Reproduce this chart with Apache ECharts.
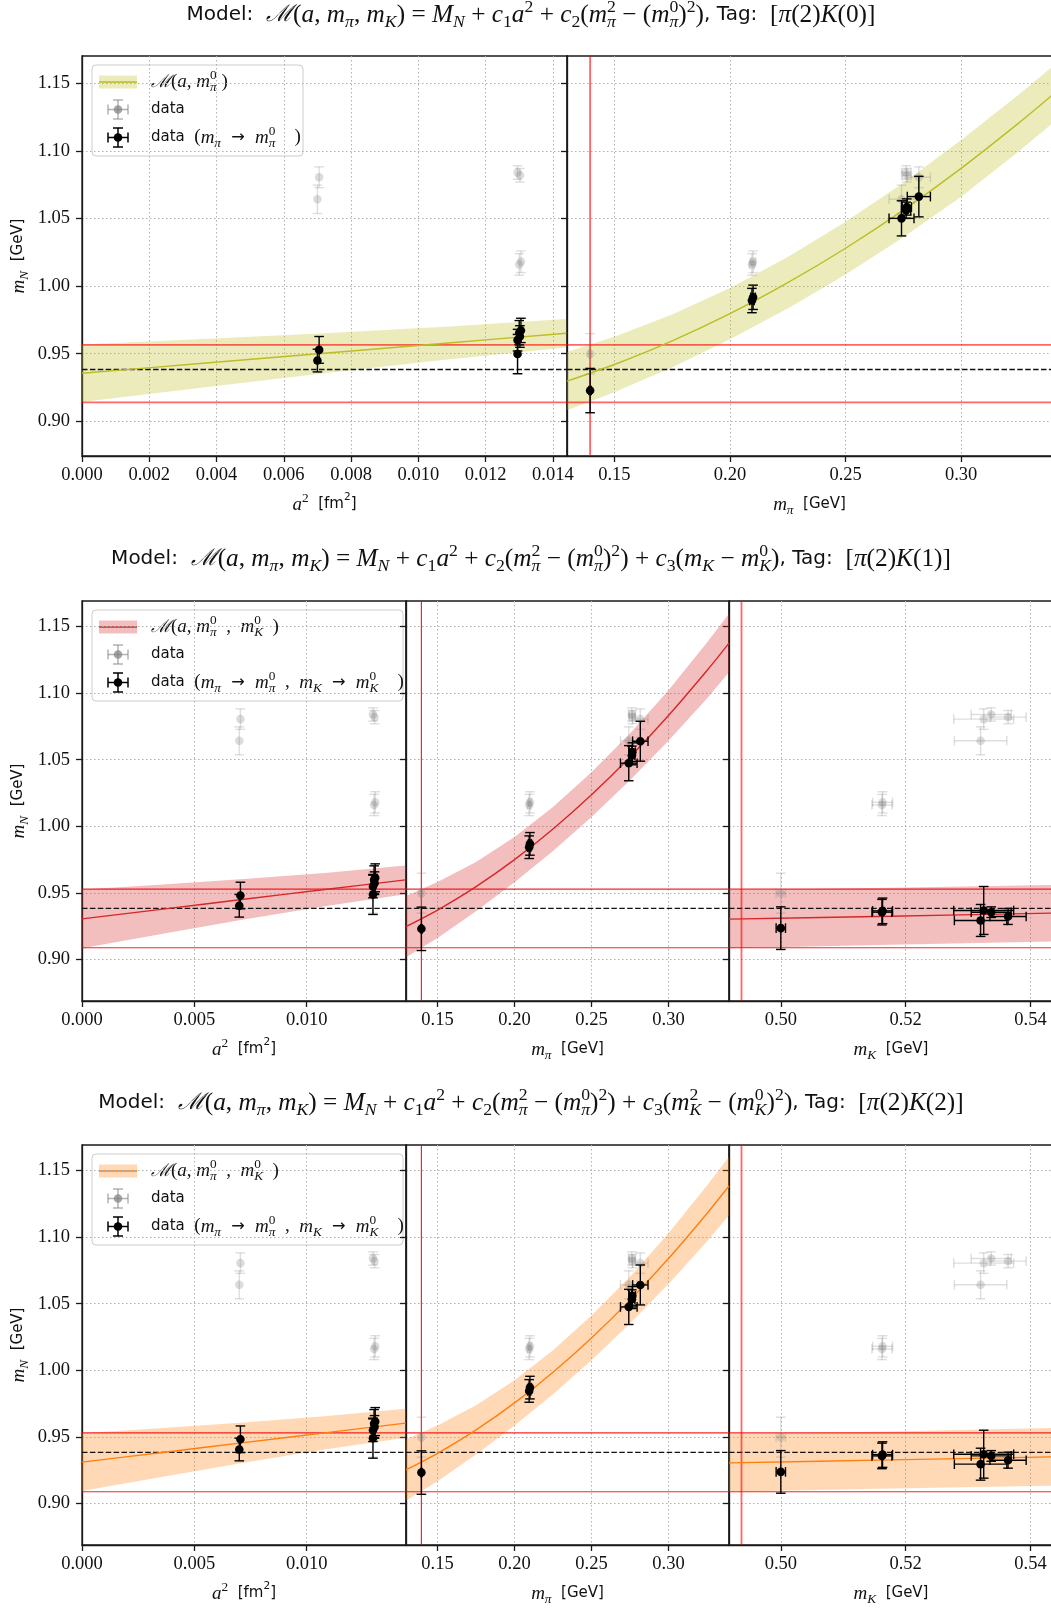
<!DOCTYPE html>
<html>
<head>
<meta charset="utf-8">
<script src="https://cdn.jsdelivr.net/npm/echarts@6/dist/echarts.min.js"></script>
<style>
html,body{margin:0;padding:0;background:#fff}
#chart{width:1051px;height:1608px}
</style>
</head>
<body>
<div id="chart"></div>
<script>
// ---------- ensembles: raw nucleon masses ----------
const ENS_A2      = [0.01295, 0.01300, 0.01305, 0.00700, 0.00705, 0.01295, 0.01302];
const ENS_MPI     = [0.1395, 0.2095, 0.2100, 0.2742, 0.2817, 0.2762, 0.2765];
const ENS_MPI_ERR = [0.0005, 0.0010, 0.0010, 0.0054, 0.0050, 0.0020, 0.0020];
const ENS_MK      = [0.5000, 0.5162, 0.5163, 0.5320, 0.5325, 0.5337, 0.5364];
const ENS_MK_ERR  = [0.00075, 0.0016, 0.0016, 0.0042, 0.0048, 0.0032, 0.0029];
const ENS_MN      = [0.9498, 1.0160, 1.0180, 1.0642, 1.0805, 1.0840, 1.0820];
const ENS_MN_ERR  = [0.0150, 0.0080, 0.0080, 0.0105, 0.0077, 0.0050, 0.0050];

// ---------- tag K(0): shifted data ----------
const K0_A2_MN   = [0.9497, 0.9655, 0.9672, 0.9449, 0.9528, 0.9600, 0.9627];
const K0_A2_ERR  = [0.0145, 0.0090, 0.0090, 0.0084, 0.0099, 0.0080, 0.0080];
const K0_MPI_MN  = [0.9227, 0.9893, 0.9917, 1.0501, 1.0662, 1.0561, 1.0585];
const K0_MPI_ERR = [0.0164, 0.0090, 0.0090, 0.0130, 0.0150, 0.0060, 0.0060];

// ---------- tag K(1): shifted data ----------
const K1_A2_MN   = [0.9488, 0.9598, 0.9613, 0.9403, 0.9480, 0.9548, 0.9573];
const K1_A2_ERR  = [0.0150, 0.0105, 0.0105, 0.0085, 0.0100, 0.0085, 0.0085];
const K1_MPI_MN  = [0.9230, 0.9843, 0.9868, 1.0474, 1.0639, 1.0532, 1.0557];
const K1_MPI_ERR = [0.0163, 0.0085, 0.0085, 0.0132, 0.0150, 0.0070, 0.0070];
const K1_MK_MN   = [0.9235, 0.9355, 0.9365, 0.9293, 0.9368, 0.9355, 0.9323];
const K1_MK_ERR  = [0.0160, 0.0096, 0.0096, 0.0120, 0.0180, 0.0040, 0.0060];

// ---------- tag K(2): shifted data ----------
const K2_A2_MN   = [0.9490, 0.9600, 0.9615, 0.9405, 0.9482, 0.9550, 0.9575];
const K2_A2_ERR  = [0.0150, 0.0105, 0.0105, 0.0085, 0.0100, 0.0085, 0.0085];
const K2_MPI_MN  = [0.9232, 0.9845, 0.9870, 1.0476, 1.0641, 1.0534, 1.0559];
const K2_MPI_ERR = [0.0163, 0.0085, 0.0085, 0.0132, 0.0150, 0.0070, 0.0070];
const K2_MK_MN   = [0.9237, 0.9357, 0.9367, 0.9295, 0.9370, 0.9357, 0.9325];
const K2_MK_ERR  = [0.0160, 0.0096, 0.0096, 0.0120, 0.0180, 0.0040, 0.0060];

// ---------- fit curves and 1-sigma bands ----------
const A2_FIT_X  = [0, 0.0036, 0.0072, 0.0108, 0.0144];
const MPI_FIT_X = [0.1295, 0.15, 0.175, 0.20, 0.225, 0.25, 0.275, 0.30, 0.325, 0.3393];
const MK_FIT_X  = [0.4917, 0.5175, 0.5436];

const K0_A2_FIT  = [0.9355, 0.9429, 0.9503, 0.9577, 0.9651];
const K0_A2_LO   = [0.9142, 0.9249, 0.9355, 0.9455, 0.9546];
const K0_A2_HI   = [0.9568, 0.9609, 0.9651, 0.9699, 0.9756];
const K0_MPI_FIT = [0.9297, 0.9420, 0.9595, 0.9796, 1.0025, 1.0280, 1.0562, 1.0871, 1.1207, 1.1411];
const K0_MPI_LO  = [0.9081, 0.9215, 0.9400, 0.9606, 0.9835, 1.0085, 1.0362, 1.0661, 1.0997, 1.1201];
const K0_MPI_HI  = [0.9513, 0.9625, 0.9790, 0.9986, 1.0215, 1.0475, 1.0762, 1.1081, 1.1417, 1.1621];

const K1_A2_FIT  = [0.9305, 0.9378, 0.9452, 0.9525, 0.9598];
const K1_A2_LO   = [0.9085, 0.9193, 0.9300, 0.9400, 0.9490];
const K1_A2_HI   = [0.9525, 0.9563, 0.9604, 0.9650, 0.9706];
const K1_MPI_FIT = [0.9247, 0.9371, 0.9547, 0.9750, 0.9980, 1.0237, 1.0521, 1.0832, 1.1170, 1.1376];
const K1_MPI_LO  = [0.9017, 0.9161, 0.9362, 0.9580, 0.9815, 1.0069, 1.0346, 1.0642, 1.0960, 1.1156];
const K1_MPI_HI  = [0.9477, 0.9581, 0.9732, 0.9920, 1.0145, 1.0405, 1.0696, 1.1022, 1.1380, 1.1596];
const K1_MK_FIT  = [0.9303, 0.9325, 0.9348];
const K1_MK_LO   = [0.9084, 0.9111, 0.9136];
const K1_MK_HI   = [0.9522, 0.9539, 0.9560];

const K2_A2_FIT  = [0.9310, 0.9383, 0.9457, 0.9530, 0.9603];
const K2_A2_LO   = [0.9093, 0.9200, 0.9306, 0.9406, 0.9494];
const K2_A2_HI   = [0.9527, 0.9566, 0.9608, 0.9655, 0.9712];
const K2_MPI_FIT = [0.9252, 0.9376, 0.9552, 0.9755, 0.9986, 1.0243, 1.0527, 1.0839, 1.1178, 1.1384];
const K2_MPI_LO  = [0.9022, 0.9166, 0.9367, 0.9585, 0.9821, 1.0075, 1.0352, 1.0649, 1.0968, 1.1164];
const K2_MPI_HI  = [0.9482, 0.9586, 0.9737, 0.9925, 1.0151, 1.0411, 1.0702, 1.1029, 1.1388, 1.1604];
const K2_MK_FIT  = [0.9305, 0.9327, 0.9350];
const K2_MK_LO   = [0.9088, 0.9113, 0.9133];
const K2_MK_HI   = [0.9522, 0.9541, 0.9567];

// ---------- reference values ----------
const K0_MN_BAND = [0.9140, 0.9565];
const K1_MN_BAND = [0.9088, 0.9528];
const K2_MN_BAND = [0.9088, 0.9530];
const MN_PHYS = 0.9383;
const MPI_0 = 0.1395;
const MK_0 = 0.4937;

// ---------- ticks ----------
const Y_TICKS       = [0.90, 0.95, 1.00, 1.05, 1.10, 1.15];
const A2_TICKS_FINE = [0, 0.002, 0.004, 0.006, 0.008, 0.010, 0.012, 0.014];
const A2_TICKS      = [0, 0.005, 0.010];
const MPI_TICKS     = [0.15, 0.20, 0.25, 0.30];
const MK_TICKS      = [0.50, 0.52, 0.54];

// ---------- styling helpers ----------
const SERIF = 'Liberation Serif';
const SANS = 'DejaVu Sans';
const INK = '#111111';

function richSet(s, sf) {
  const L = Math.round(s * 1.3);
  const base = {align: 'left', lineHeight: L, verticalAlign: 'middle', color: INK, fill: INK};
  const mk = (o) => Object.assign({}, base, o);
  const small = (o) => Object.assign({align: 'left', color: INK, fill: INK, fontFamily: SERIF, fontSize: s * 0.7}, o);
  return {
    sf:   mk({fontFamily: SANS, fontSize: sf}),
    rm:   mk({fontFamily: SERIF, fontSize: s}),
    mi:   mk({fontFamily: SERIF, fontStyle: 'italic', fontSize: s}),
    ar:   mk({fontFamily: SANS, fontSize: s * 0.85}),
    cal:  mk({fontFamily: 'DejaVu Serif', fontStyle: 'italic', fontSize: s * 0.92}),
    sub:  small({fontStyle: 'italic', lineHeight: s * 0.7, verticalAlign: 'bottom'}),
    subr: small({lineHeight: s * 0.7, verticalAlign: 'bottom'}),
    sup:  small({lineHeight: s * 0.76, verticalAlign: 'top'}),
    supz: small({lineHeight: s * 0.76, verticalAlign: 'top', width: 0}),
    sfsup: {align: 'left', fontFamily: SANS, fontSize: sf * 0.7, lineHeight: sf * 0.76, verticalAlign: 'top', color: INK, fill: INK}
  };
}
const RICH_TITLE = richSet(25.3, 20);
const RICH_AXIS = richSet(19, 15);
const RICH_LEG = richSet(19, 15);

const T_HEAD = '{sf|Model:  }{cal|ℳ}{rm|(}{mi|a}{rm|, }{mi|m}{sub|π}{rm|, }{mi|m}{sub|K}{rm|) = }{mi|M}{sub|N}{rm| + }{mi|c}{subr|1}{mi|a}{sup|2}{rm| + }{mi|c}{subr|2}{rm|(}{mi|m}{supz|2}{sub|π}{rm| − (}{mi|m}{supz|0}{sub|π}{rm|)}{sup|2}{rm|)}';
const TITLE_K0 = T_HEAD + '{sf|, Tag:  }{rm|[}{mi|π}{rm|(2)}{mi|K}{rm|(0)]}';
const TITLE_K1 = T_HEAD + '{rm| + }{mi|c}{subr|3}{rm|(}{mi|m}{sub|K}{rm| − }{mi|m}{supz|0}{sub|K}{rm|)}{sf|, Tag:  }{rm|[}{mi|π}{rm|(2)}{mi|K}{rm|(1)]}';
const TITLE_K2 = T_HEAD + '{rm| + }{mi|c}{subr|3}{rm|(}{mi|m}{supz|2}{sub|K}{rm| − (}{mi|m}{supz|0}{sub|K}{rm|)}{sup|2}{rm|)}{sf|, Tag:  }{rm|[}{mi|π}{rm|(2)}{mi|K}{rm|(2)]}';

const NAME_A2 = '{mi|a}{sup|2}{sf|  [fm}{sfsup|2}{sf|]}';
const NAME_MPI = '{mi|m}{sub|π}{sf|  [GeV]}';
const NAME_MK = '{mi|m}{sub|K}{sf|  [GeV]}';
const NAME_MN = '{mi|m}{sub|N}{sf|  [GeV]}';

const LEG_MODEL_1 = '{cal|ℳ}{rm|(}{mi|a}{rm|, }{mi|m}{supz|0}{sub|π}{rm| )}';
const LEG_MODEL_2 = '{cal|ℳ}{rm|(}{mi|a}{rm|, }{mi|m}{supz|0}{sub|π}{rm|  ,  }{mi|m}{supz|0}{sub|K}{rm|  )}';
const LEG_DATA = '{sf|data}';
const LEG_SHIFT_1 = '{sf|data }{rm| (}{mi|m}{sub|π}{ar|  →  }{mi|m}{supz|0}{sub|π}{rm|    )}';
const LEG_SHIFT_2 = '{sf|data }{rm| (}{mi|m}{sub|π}{ar|  →  }{mi|m}{supz|0}{sub|π}{rm|  ,  }{mi|m}{sub|K}{ar|  →  }{mi|m}{supz|0}{sub|K}{rm|    )}';

// ---------- layout ----------
const GRIDS = [
  {left: 82,  top: 56,   width: 485, height: 400},
  {left: 567, top: 56,   width: 485, height: 400},
  {left: 82,  top: 601,  width: 324, height: 400},
  {left: 406, top: 601,  width: 323, height: 400},
  {left: 729, top: 601,  width: 324, height: 400},
  {left: 82,  top: 1145, width: 324, height: 400},
  {left: 406, top: 1145, width: 323, height: 400},
  {left: 729, top: 1145, width: 324, height: 400}
];
const Y_RANGE_1 = [0.8743, 1.1702];
const Y_RANGE_23 = [0.8688, 1.1692];
const A2_RANGE = [0, 0.01442];
const MPI_RANGE = [0.1295, 0.3393];
const MK_RANGE = [0.4917, 0.5436];

const SPINE = '#1a1a1a';
const GRIDLINE = {color: '#b0b0b0', width: 1, type: [1.5, 2.5]};

function xAxisOf(gi, rng, ticks, dec, name) {
  return {
    type: 'value', gridIndex: gi, min: rng[0], max: rng[1],
    axisLine: {show: true, onZero: false, lineStyle: {color: SPINE, width: 1.3}},
    axisTick: {show: true, customValues: ticks, length: 6, lineStyle: {color: SPINE, width: 1.3}},
    axisLabel: {customValues: ticks, formatter: (v) => v.toFixed(dec), fontFamily: SERIF, fontSize: 18.5, color: INK, margin: 10},
    splitLine: {show: true, lineStyle: GRIDLINE},
    name: name, nameLocation: 'middle', nameGap: 36,
    nameTextStyle: {rich: RICH_AXIS}
  };
}
function yAxisOf(gi, rng, first) {
  return {
    type: 'value', gridIndex: gi, min: rng[0], max: rng[1],
    axisLine: {show: true, onZero: false, lineStyle: {color: SPINE, width: 1.3}},
    axisTick: {show: true, customValues: Y_TICKS, length: 6, lineStyle: {color: SPINE, width: 1.3}},
    axisLabel: {show: first, customValues: Y_TICKS, formatter: (v) => v.toFixed(2), fontFamily: SERIF, fontSize: 18.5, color: INK, margin: 12},
    splitLine: {show: true, lineStyle: GRIDLINE},
    name: first ? NAME_MN : '', nameLocation: 'middle', nameGap: 51, nameRotate: 90,
    nameTextStyle: {rich: RICH_AXIS}
  };
}

// ---------- series builders ----------
function bandSeries(gi, xs, lo, hi, fill) {
  const data = xs.map((x, i) => [x, lo[i], hi[i]]);
  return {
    type: 'custom', xAxisIndex: gi, yAxisIndex: gi, clip: true, silent: true, z: 1,
    data: data,
    renderItem: function (params, api) {
      if (params.dataIndex !== 0) return;
      const upper = data.map((d) => api.coord([d[0], d[2]]));
      const lower = data.map((d) => api.coord([d[0], d[1]])).reverse();
      return {type: 'polygon', shape: {points: upper.concat(lower)}, style: {fill: fill}};
    }
  };
}
function fitSeries(gi, xs, ys, color) {
  return {
    type: 'line', xAxisIndex: gi, yAxisIndex: gi, z: 3, silent: true,
    data: xs.map((x, i) => [x, ys[i]]), smooth: 0.3,
    showSymbol: false, symbol: 'none',
    lineStyle: {color: color, width: 1.4}
  };
}
// straight reference line spanning a panel
function refLine(gi, pts, style) {
  return {
    type: 'line', xAxisIndex: gi, yAxisIndex: gi, z: 2, silent: true,
    data: pts, showSymbol: false, symbol: 'none', lineStyle: style
  };
}
function addRefLines(gi, xr, yr, band, vline, redStyle, vStyle) {
  series.push(refLine(gi, [[xr[0], band[0]], [xr[1], band[0]]], redStyle));
  series.push(refLine(gi, [[xr[0], band[1]], [xr[1], band[1]]], redStyle));
  series.push(refLine(gi, [[xr[0], MN_PHYS], [xr[1], MN_PHYS]], {color: '#111', width: 1.3, type: [5.5, 2.4]}));
  if (vline != null) series.push(refLine(gi, [[vline, yr[0]], [vline, yr[1]]], vStyle || redStyle));
}
function errSeries(gi, xs, xerr, ys, yerr, lineColor, dotColor, z) {
  const data = xs.map((x, i) => [x, ys[i], xerr ? xerr[i] : 0, yerr[i]]);
  const cap = 4.8, r = 4.3;
  return {
    type: 'custom', xAxisIndex: gi, yAxisIndex: gi, clip: true, silent: true, z: z,
    data: data,
    renderItem: function (params, api) {
      const x = api.value(0), y = api.value(1), ex = api.value(2), ey = api.value(3);
      const c = api.coord([x, y]);
      const t = api.coord([x, y + ey]), b = api.coord([x, y - ey]);
      const ls = {stroke: lineColor, lineWidth: 1.4, fill: null};
      const kids = [
        {type: 'line', shape: {x1: c[0], y1: t[1], x2: c[0], y2: b[1]}, style: ls},
        {type: 'line', shape: {x1: c[0] - cap, y1: t[1], x2: c[0] + cap, y2: t[1]}, style: ls},
        {type: 'line', shape: {x1: c[0] - cap, y1: b[1], x2: c[0] + cap, y2: b[1]}, style: ls}
      ];
      if (ex > 0) {
        const l = api.coord([x - ex, y]), rr = api.coord([x + ex, y]);
        kids.push({type: 'line', shape: {x1: l[0], y1: c[1], x2: rr[0], y2: c[1]}, style: ls});
        kids.push({type: 'line', shape: {x1: l[0], y1: c[1] - cap, x2: l[0], y2: c[1] + cap}, style: ls});
        kids.push({type: 'line', shape: {x1: rr[0], y1: c[1] - cap, x2: rr[0], y2: c[1] + cap}, style: ls});
      }
      kids.push({type: 'circle', shape: {cx: c[0], cy: c[1], r: r}, style: {fill: dotColor}});
      return {type: 'group', children: kids};
    }
  };
}

const GREY_LINE = 'rgba(128,128,128,0.26)';
const GREY_DOT = 'rgba(128,128,128,0.28)';
const BLACK = '#000000';

const MODELS = [
  {color: '#bcbd22', fill: 'rgba(188,189,34,0.3)'},
  {color: '#d62728', fill: 'rgba(214,39,40,0.3)'},
  {color: '#ff7f0e', fill: 'rgba(255,127,14,0.3)'}
];
const RED_1 = {color: 'rgba(255,0,0,0.6)', width: 1.8, type: 'solid'};
const RED_23 = {color: 'rgba(240,0,0,0.85)', width: 1.2, type: 'solid'};
const RED_23_K = {color: 'rgba(255,0,0,0.6)', width: 1.8, type: 'solid'};

const series = [];
function addPanel(gi, xr, yr, model, fitX, fit, lo, hi, band, vline, red, vred, gx, gxe, bx, bxe, by, bye) {
  series.push(bandSeries(gi, fitX, lo, hi, model.fill));
  addRefLines(gi, xr, yr, band, vline, red, vred);
  series.push(fitSeries(gi, fitX, fit, model.color));
  series.push(errSeries(gi, gx, gxe, ENS_MN, ENS_MN_ERR, GREY_LINE, GREY_DOT, 4));
  series.push(errSeries(gi, bx, bxe, by, bye, BLACK, BLACK, 5));
}

// tag K(0)
addPanel(0, A2_RANGE, Y_RANGE_1, MODELS[0], A2_FIT_X, K0_A2_FIT, K0_A2_LO, K0_A2_HI, K0_MN_BAND, null, RED_1, null,
  ENS_A2, null, ENS_A2, null, K0_A2_MN, K0_A2_ERR);
addPanel(1, MPI_RANGE, Y_RANGE_1, MODELS[0], MPI_FIT_X, K0_MPI_FIT, K0_MPI_LO, K0_MPI_HI, K0_MN_BAND, MPI_0, RED_1, null,
  ENS_MPI, ENS_MPI_ERR, ENS_MPI, ENS_MPI_ERR, K0_MPI_MN, K0_MPI_ERR);
// tag K(1)
addPanel(2, A2_RANGE, Y_RANGE_23, MODELS[1], A2_FIT_X, K1_A2_FIT, K1_A2_LO, K1_A2_HI, K1_MN_BAND, null, RED_23, null,
  ENS_A2, null, ENS_A2, null, K1_A2_MN, K1_A2_ERR);
addPanel(3, MPI_RANGE, Y_RANGE_23, MODELS[1], MPI_FIT_X, K1_MPI_FIT, K1_MPI_LO, K1_MPI_HI, K1_MN_BAND, MPI_0, RED_23, null,
  ENS_MPI, ENS_MPI_ERR, ENS_MPI, ENS_MPI_ERR, K1_MPI_MN, K1_MPI_ERR);
addPanel(4, MK_RANGE, Y_RANGE_23, MODELS[1], MK_FIT_X, K1_MK_FIT, K1_MK_LO, K1_MK_HI, K1_MN_BAND, MK_0, RED_23, RED_23_K,
  ENS_MK, ENS_MK_ERR, ENS_MK, ENS_MK_ERR, K1_MK_MN, K1_MK_ERR);
// tag K(2)
addPanel(5, A2_RANGE, Y_RANGE_23, MODELS[2], A2_FIT_X, K2_A2_FIT, K2_A2_LO, K2_A2_HI, K2_MN_BAND, null, RED_23, null,
  ENS_A2, null, ENS_A2, null, K2_A2_MN, K2_A2_ERR);
addPanel(6, MPI_RANGE, Y_RANGE_23, MODELS[2], MPI_FIT_X, K2_MPI_FIT, K2_MPI_LO, K2_MPI_HI, K2_MN_BAND, MPI_0, RED_23, null,
  ENS_MPI, ENS_MPI_ERR, ENS_MPI, ENS_MPI_ERR, K2_MPI_MN, K2_MPI_ERR);
addPanel(7, MK_RANGE, Y_RANGE_23, MODELS[2], MK_FIT_X, K2_MK_FIT, K2_MK_LO, K2_MK_HI, K2_MN_BAND, MK_0, RED_23, RED_23_K,
  ENS_MK, ENS_MK_ERR, ENS_MK, ENS_MK_ERR, K2_MK_MN, K2_MK_ERR);

const xAxes = [
  xAxisOf(0, A2_RANGE, A2_TICKS_FINE, 3, NAME_A2),
  xAxisOf(1, MPI_RANGE, MPI_TICKS, 2, NAME_MPI),
  xAxisOf(2, A2_RANGE, A2_TICKS, 3, NAME_A2),
  xAxisOf(3, MPI_RANGE, MPI_TICKS, 2, NAME_MPI),
  xAxisOf(4, MK_RANGE, MK_TICKS, 2, NAME_MK),
  xAxisOf(5, A2_RANGE, A2_TICKS, 3, NAME_A2),
  xAxisOf(6, MPI_RANGE, MPI_TICKS, 2, NAME_MPI),
  xAxisOf(7, MK_RANGE, MK_TICKS, 2, NAME_MK)
];
const yAxes = [
  yAxisOf(0, Y_RANGE_1, true), yAxisOf(1, Y_RANGE_1, false),
  yAxisOf(2, Y_RANGE_23, true), yAxisOf(3, Y_RANGE_23, false), yAxisOf(4, Y_RANGE_23, false),
  yAxisOf(5, Y_RANGE_23, true), yAxisOf(6, Y_RANGE_23, false), yAxisOf(7, Y_RANGE_23, false)
];

// ---------- legends and titles ----------
function errGlyph(cx, cy, lineColor, dotColor) {
  const ls = {stroke: lineColor, lineWidth: 1.5};
  return [
    {type: 'line', shape: {x1: cx - 10, y1: cy, x2: cx + 10, y2: cy}, style: ls},
    {type: 'line', shape: {x1: cx - 10, y1: cy - 5, x2: cx - 10, y2: cy + 5}, style: ls},
    {type: 'line', shape: {x1: cx + 10, y1: cy - 5, x2: cx + 10, y2: cy + 5}, style: ls},
    {type: 'line', shape: {x1: cx, y1: cy - 9.5, x2: cx, y2: cy + 9.5}, style: ls},
    {type: 'line', shape: {x1: cx - 5, y1: cy - 9.5, x2: cx + 5, y2: cy - 9.5}, style: ls},
    {type: 'line', shape: {x1: cx - 5, y1: cy + 9.5, x2: cx + 5, y2: cy + 9.5}, style: ls},
    {type: 'circle', shape: {cx: cx, cy: cy, r: 4.3}, style: {fill: dotColor}}
  ];
}
function legend(top, w, model, modelText, shiftText) {
  const y0 = top + 9;
  const cy = [y0 + 17, y0 + 44.5, y0 + 72.5];
  const els = [
    {type: 'rect', shape: {x: 92, y: y0, width: w, height: 91, r: 4}, style: {fill: 'rgba(255,255,255,0.8)', stroke: '#cccccc', lineWidth: 1}},
    {type: 'rect', shape: {x: 99, y: cy[0] - 6.5, width: 38, height: 13}, style: {fill: model.fill}},
    {type: 'line', shape: {x1: 99, y1: cy[0], x2: 137, y2: cy[0]}, style: {stroke: model.color, lineWidth: 1.4}}
  ].concat(errGlyph(118, cy[1], 'rgba(128,128,128,0.6)', 'rgba(128,128,128,0.7)'))
   .concat(errGlyph(118, cy[2], BLACK, BLACK));
  [modelText, LEG_DATA, shiftText].forEach((t, i) => {
    els.push({type: 'text', x: 151, y: cy[i], style: {text: t, rich: RICH_LEG, align: 'left', verticalAlign: 'middle', fill: INK}});
  });
  return {type: 'group', z: 100, children: els};
}
function title(y, text) {
  return {type: 'text', x: 531, y: y, z: 100, style: {text: text, rich: RICH_TITLE, align: 'center', verticalAlign: 'middle', fill: INK}};
}

const option = {
  animation: false,
  backgroundColor: '#ffffff',
  grid: GRIDS.map((g) => Object.assign({
    show: true, borderColor: SPINE, borderWidth: 1.3, backgroundColor: 'transparent',
    containLabel: false, outerBoundsMode: 'none'
  }, g)),
  xAxis: xAxes,
  yAxis: yAxes,
  series: series,
  graphic: [
    title(15, TITLE_K0), title(559, TITLE_K1), title(1103, TITLE_K2),
    legend(56, 211, MODELS[0], LEG_MODEL_1, LEG_SHIFT_1),
    legend(601, 311, MODELS[1], LEG_MODEL_2, LEG_SHIFT_2),
    legend(1145, 311, MODELS[2], LEG_MODEL_2, LEG_SHIFT_2)
  ]
};

const chart = echarts.init(document.getElementById('chart'), null, {renderer: 'canvas', width: 1051, height: 1608});
chart.setOption(option);
</script>
</body>
</html>
